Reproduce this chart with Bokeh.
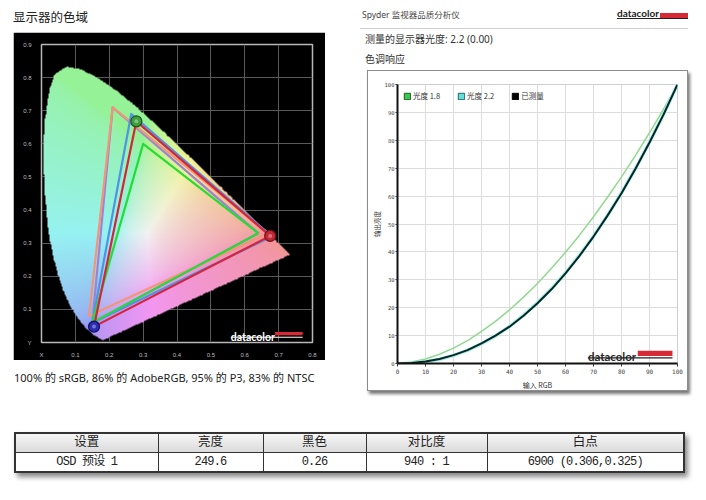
import numpy as np
from bokeh.plotting import figure
from bokeh.layouts import column, row
from bokeh.models import (Div, Spacer, Range1d, FixedTicker, Label, BoxAnnotation,
                          Legend, LegendItem)
from bokeh.embed import file_html
from bokeh.resources import INLINE

# ---------------- data: chromaticity chart ----------------
left_title = "显示器的色域"
locus_x = [0.180, 0.153, 0.128, 0.105, 0.083, 0.064, 0.048, 0.035, 0.025, 0.017,
           0.011, 0.007, 0.005, 0.006, 0.010, 0.016, 0.026, 0.0389, 0.0743, 0.1142,
           0.1547, 0.1929, 0.2296, 0.2658, 0.3016, 0.3373, 0.3731, 0.4087, 0.4441, 0.4788,
           0.5125, 0.5448, 0.5752, 0.6029, 0.6270, 0.6482, 0.6658, 0.6801, 0.6915, 0.7079,
           0.7190, 0.7300, 0.7347]
locus_y = [0.006, 0.022, 0.045, 0.075, 0.112, 0.155, 0.205, 0.255, 0.305, 0.355,
           0.425, 0.497, 0.560, 0.620, 0.675, 0.725, 0.775, 0.8120, 0.8338, 0.8262,
           0.8059, 0.7816, 0.7543, 0.7243, 0.6923, 0.6589, 0.6245, 0.5896, 0.5547, 0.5202,
           0.4866, 0.4544, 0.4242, 0.3965, 0.3725, 0.3514, 0.3340, 0.3197, 0.3083, 0.2920,
           0.2809, 0.2700, 0.2653]
cie_ticks_x = [0, 0.1, 0.2, 0.3, 0.4, 0.5, 0.6, 0.7, 0.8]
cie_ticks_y = [0, 0.1, 0.2, 0.3, 0.4, 0.5, 0.6, 0.7, 0.8, 0.9]
gamut_names = ["AdobeRGB", "NTSC", "P3", "sRGB", "Measured"]
gamut_x = [[0.64, 0.21, 0.15], [0.67, 0.21, 0.14], [0.68, 0.265, 0.15],
           [0.64, 0.30, 0.15], [0.675, 0.28, 0.155]]
gamut_y = [[0.33, 0.71, 0.06], [0.33, 0.71, 0.08], [0.32, 0.69, 0.06],
           [0.33, 0.60, 0.06], [0.322, 0.668, 0.048]]
gamut_colors = ["#9c84d4", "#f2967a", "#4f93e3", "#25dc36", "#d8243a"]
primary_x = [0.28, 0.675, 0.155]
primary_y = [0.668, 0.322, 0.048]
primary_colors = ["#3d9e3e", "#c42836", "#2b2bb5"]
primary_edges = ["#1c561d", "#76121c", "#12125c"]
caption = "100% 的 sRGB, 86% 的 AdobeRGB, 95% 的 P3, 83% 的 NTSC"

# ---------------- data: tone response ----------------
header_title = "Spyder 监视器品质分析仪"
measured_gamma_text = "测量的显示器光度: 2.2 (0.00)"
tone_title = "色调响应"
gamma_input = [0, 5, 10, 15, 20, 25, 30, 35, 40, 45, 50, 55, 60, 65, 70, 75, 80, 85, 90, 95, 100]
gamma18 = [0, 0.5, 1.6, 3.3, 5.5, 8.2, 11.5, 15.1, 19.2, 23.8, 28.7, 34.1, 39.9, 46.0,
           52.6, 59.6, 66.9, 74.6, 82.7, 91.2, 100]
gamma22 = [0, 0.1, 0.6, 1.5, 2.9, 4.7, 7.1, 9.9, 13.3, 17.3, 21.8, 26.8, 32.5, 38.8,
           45.6, 53.1, 61.2, 69.9, 79.3, 89.3, 100]
measured = [0, 0.2, 0.7, 1.6, 3.0, 4.8, 7.2, 10.0, 13.2, 17.1, 21.6, 26.6, 32.3, 38.6,
            45.5, 53.0, 61.0, 69.8, 79.2, 89.2, 100]
gamma_ticks = [0, 10, 20, 30, 40, 50, 60, 70, 80, 90, 100]
legend_labels = ["光度 1.8", "光度 2.2", "已测量"]
x_label = "输入 RGB"
y_label = "输出亮度"

# ---------------- data: table ----------------
table_headers = ["设置", "亮度", "黑色", "对比度", "白点"]
table_row = ["OSD 预设 1", "249.6", "0.26", "940 : 1", "6900 (0.306,0.325)"]

CJK = "'Noto Sans CJK SC'"

# ================= chromaticity chart =================
cie = figure(width=312, height=328, x_range=Range1d(0, 0.8), y_range=Range1d(0, 0.9),
             output_backend="svg", toolbar_location=None,
             min_border_left=28, min_border_right=13, min_border_top=12, min_border_bottom=12,
             background_fill_color="black", border_fill_color="black")
cie.outline_line_color = "#b8b8b8"
cie.outline_line_width = 1.5
cie.xaxis.ticker = FixedTicker(ticks=cie_ticks_x)
cie.yaxis.ticker = FixedTicker(ticks=cie_ticks_y)
cie.xaxis.major_label_overrides = {0: "X"}
cie.yaxis.major_label_overrides = {0: "Y"}
for ax in (cie.xaxis[0], cie.yaxis[0]):
    ax.axis_line_color = None
    ax.major_tick_line_color = None
    ax.minor_tick_line_color = None
    ax.major_label_text_font_size = "6px"
    ax.major_label_text_color = "#bdbdbd"
cie.xaxis.major_label_standoff = 3
cie.yaxis.major_label_standoff = 4
cie.grid.grid_line_color = "#5a5a5a"
cie.grid.grid_line_width = 1

# colour field of the horseshoe
nx, ny = 480, 540
gx, gy = np.meshgrid(np.linspace(0, 0.8, nx), np.linspace(0, 0.9, ny))
vx = np.array(locus_x)
vy = np.array(locus_y)
inside = np.zeros(gx.shape, dtype=bool)
j = len(vx) - 1
for i in range(len(vx)):
    xi, yi, xj, yj = vx[i], vy[i], vx[j], vy[j]
    cond = (yi > gy) != (yj > gy)
    xint = (xj - xi) * (gy - yi) / ((yj - yi) if yj != yi else 1e-12) + xi
    inside ^= cond & (gx < xint)
    j = i
yy = np.maximum(gy, 1e-3)
X = gx / yy
Yc = np.ones_like(gx)
Z = (1 - gx - gy) / yy
r = 3.2406 * X - 1.5372 * Yc - 0.4986 * Z
g = -0.9689 * X + 1.8758 * Yc + 0.0415 * Z
b = 0.0557 * X - 0.2040 * Yc + 1.0570 * Z
rgb = np.clip(np.stack([r, g, b], axis=-1), 0, None)
rgb = rgb / np.maximum(rgb.max(axis=-1, keepdims=True), 1e-6)
rgb = rgb ** (1 / 2.2)
rgb = 0.95 * (0.62 + 0.38 * rgb)
img = np.zeros((ny, nx), dtype=np.uint32)
view = img.view(dtype=np.uint8).reshape((ny, nx, 4))
view[..., 0] = (rgb[..., 0] * 255).astype(np.uint8)
view[..., 1] = (rgb[..., 1] * 255).astype(np.uint8)
view[..., 2] = (rgb[..., 2] * 255).astype(np.uint8)
view[..., 3] = np.where(inside, 255, 0).astype(np.uint8)
cie.image_rgba(image=[img], x=0, y=0, dw=0.8, dh=0.9)

for gxs, gys, col in zip(gamut_x, gamut_y, gamut_colors):
    cie.line(gxs + gxs[:1], gys + gys[:1], line_color=col, line_width=2.2, line_join="round")

cie.scatter(primary_x, primary_y, size=11, fill_color=primary_colors, line_color=primary_edges,
            line_width=1.2)
cie.scatter(primary_x, primary_y, size=4, fill_color="white", fill_alpha=0.35, line_color=None)

cie.add_layout(Label(x=0.559, y=0.0178, text="datacolor", text_color="white",
                     text_font="Lato", text_font_style="bold", text_font_size="10.5px",
                     text_baseline="alphabetic"))
cie.add_layout(BoxAnnotation(left=0.689, right=0.771, bottom=0.0216, top=0.0317,
                             fill_color="#d62a36", fill_alpha=1, line_color=None))
cie.add_layout(BoxAnnotation(left=0.559, right=0.771, bottom=0.0140, top=0.0170,
                             fill_color="white", fill_alpha=1, line_color=None))

# ================= tone response chart =================
gam = figure(width=321, height=321, x_range=Range1d(0, 100), y_range=Range1d(0, 100),
             output_backend="svg", toolbar_location=None,
             min_border_left=28, min_border_right=12, min_border_top=13, min_border_bottom=27,
             background_fill_color="white", border_fill_color="white",
             styles={"border": "1px solid #8c8c8c", "box-shadow": "2px 3px 3px #7a7a7a"})
gam.outline_line_color = "#cfcfcf"
gam.xaxis.ticker = FixedTicker(ticks=gamma_ticks)
gam.yaxis.ticker = FixedTicker(ticks=gamma_ticks)
for ax in (gam.xaxis[0], gam.yaxis[0]):
    ax.axis_line_color = "#111111"
    ax.axis_line_width = 2
    ax.major_tick_out = 3
    ax.major_tick_in = 0
    ax.major_tick_line_color = "#333333"
    ax.minor_tick_line_color = None
    ax.major_label_text_font = "DejaVu Sans Mono"
    ax.major_label_text_font_size = "6px"
    ax.major_label_text_color = "#444444"
    ax.major_label_standoff = 2
    ax.axis_label_text_font = "Noto Sans CJK SC"
    ax.axis_label_text_font_size = "7px"
    ax.axis_label_text_font_style = "normal"
    ax.axis_label_text_color = "#333333"
    ax.axis_label_standoff = 3
gam.yaxis.major_tick_out = 2
gam.yaxis.major_label_text_font_size = "5.5px"
gam.yaxis.major_label_standoff = 1
gam.yaxis.axis_label_standoff = 0
gam.yaxis.axis_label_text_font_size = "6.5px"
gam.xaxis.axis_label = x_label
gam.yaxis.axis_label = y_label
gam.grid.grid_line_color = "#dcdcdc"

gam.line(gamma_input, gamma18, line_color="#90d98f", line_width=1.5)
gam.line(gamma_input, gamma22, line_color="#a4efe9", line_width=3.5)
gam.line(gamma_input, measured, line_color="#082626", line_width=2)

# legend swatches (hidden renderers, only their legend glyph is shown)
sw18 = gam.quad(left=gamma_input[:1], right=gamma_input[:1], top=gamma18[:1], bottom=gamma18[:1],
                fill_color="#3cc94b", line_color="#1c5e25", visible=False)
sw22 = gam.quad(left=gamma_input[:1], right=gamma_input[:1], top=gamma22[:1], bottom=gamma22[:1],
                fill_color="#62e0dc", line_color="#1f6a66", visible=False)
swm = gam.quad(left=gamma_input[:1], right=gamma_input[:1], top=measured[:1], bottom=measured[:1],
               fill_color="#000000", line_color="#000000", visible=False)
legend = Legend(items=[LegendItem(label=legend_labels[0], renderers=[sw18]),
                       LegendItem(label=legend_labels[1], renderers=[sw22]),
                       LegendItem(label=legend_labels[2], renderers=[swm])],
                location="top_left", orientation="horizontal",
                glyph_width=8, glyph_height=8, label_standoff=2, spacing=17,
                padding=1, margin=6, background_fill_alpha=0, border_line_color=None,
                label_text_font="Noto Sans CJK SC", label_text_font_size="7.5px",
                label_text_color="#333333", label_height=8)
gam.add_layout(legend)

gam.add_layout(Label(x=68.0, y=2.67, text="datacolor", text_color="#2a2a2a",
                     text_font="Lato", text_font_style="bold", text_font_size="11.5px",
                     text_baseline="alphabetic"))
gam.add_layout(BoxAnnotation(left=85.8, right=98.2, bottom=2.67, top=4.6,
                             fill_color="#d62a36", fill_alpha=1, line_color=None))
gam.add_layout(BoxAnnotation(left=68.0, right=98.2, bottom=1.8, top=2.2,
                             fill_color="#222222", fill_alpha=1, line_color=None))

# ================= text blocks =================
title_div = Div(text=(
    f'<div style="position:relative;width:355px;height:32px;">'
    f'<span style="position:absolute;left:13px;top:11px;font-family:{CJK};font-size:12.5px;'
    f'line-height:1;color:#222;white-space:nowrap;">{left_title}</span></div>'),
    width=355, height=32, margin=0)

caption_div = Div(text=(
    f'<div style="position:relative;width:355px;height:55px;">'
    f'<span style="position:absolute;left:14px;top:12px;font-family:\'Noto Sans\',{CJK};'
    f'font-size:11px;line-height:1;color:#222;white-space:nowrap;">{caption}</span></div>'),
    width=355, height=55, margin=0)

header_div = Div(text=(
    f'<div style="position:relative;width:351px;height:70px;font-family:\'Noto Sans\',{CJK};color:#333;">'
    f'<span style="position:absolute;left:7px;top:11px;font-size:8.5px;line-height:1;white-space:nowrap;color:#444;">{header_title}</span>'
    f'<span style="position:absolute;left:262px;top:8px;font-family:Lato;font-weight:bold;font-size:10px;line-height:1;color:#222;">datacolor</span>'
    f'<div style="position:absolute;left:305px;top:13px;width:28px;height:5px;background:#d62a36;"></div>'
    f'<div style="position:absolute;left:262px;top:18px;width:71px;height:1px;background:#222;"></div>'
    f'<div style="position:absolute;left:5px;top:28px;width:328px;height:1px;background:#d0d0d0;"></div>'
    f'<span style="position:absolute;left:10px;top:34px;font-size:10px;line-height:1;white-space:nowrap;">{measured_gamma_text}</span>'
    f'<span style="position:absolute;left:10px;top:54px;font-size:10px;line-height:1;white-space:nowrap;">{tone_title}</span>'
    f'</div>'),
    width=351, height=70, margin=0)

col_widths = [143, 105, 103, 121, 197]
cols = "".join(f'<col style="width:{w}px">' for w in col_widths)
ths = "".join(
    f'<th style="border:1px solid #333;background:linear-gradient(#f6f6f6,#dadada);'
    f'height:19px;padding:0;font-weight:normal;font-size:12.5px;">{h}</th>' for h in table_headers)
tds = "".join(
    f'<td style="border:1px solid #333;height:20px;padding:0;font-size:12px;letter-spacing:-0.8px;">{v}</td>'
    for v in table_row)
table_div = Div(text=(
    f'<div style="position:relative;width:706px;height:85px;">'
    f'<table style="position:absolute;left:14px;top:17px;border-collapse:collapse;table-layout:fixed;'
    f'width:669px;border:2px solid #333;box-shadow:3px 4px 5px #8a8a8a;'
    f'font-family:\'Liberation Mono\',{CJK};color:#222;text-align:center;line-height:1;">'
    f'<colgroup>{cols}</colgroup><tr>{ths}</tr><tr>{tds}</tr></table></div>'),
    width=706, height=85, margin=0)

# ================= layout =================
left_col = column(title_div,
                  row(Spacer(width=13, height=328), cie, Spacer(width=30, height=328)),
                  caption_div)
right_col = column(header_div,
                   row(Spacer(width=12, height=323), gam, Spacer(width=16, height=323)),
                   Spacer(width=351, height=22))
root = column(row(left_col, right_col), table_div)

open("out.html", "w").write(file_html(root, INLINE))
